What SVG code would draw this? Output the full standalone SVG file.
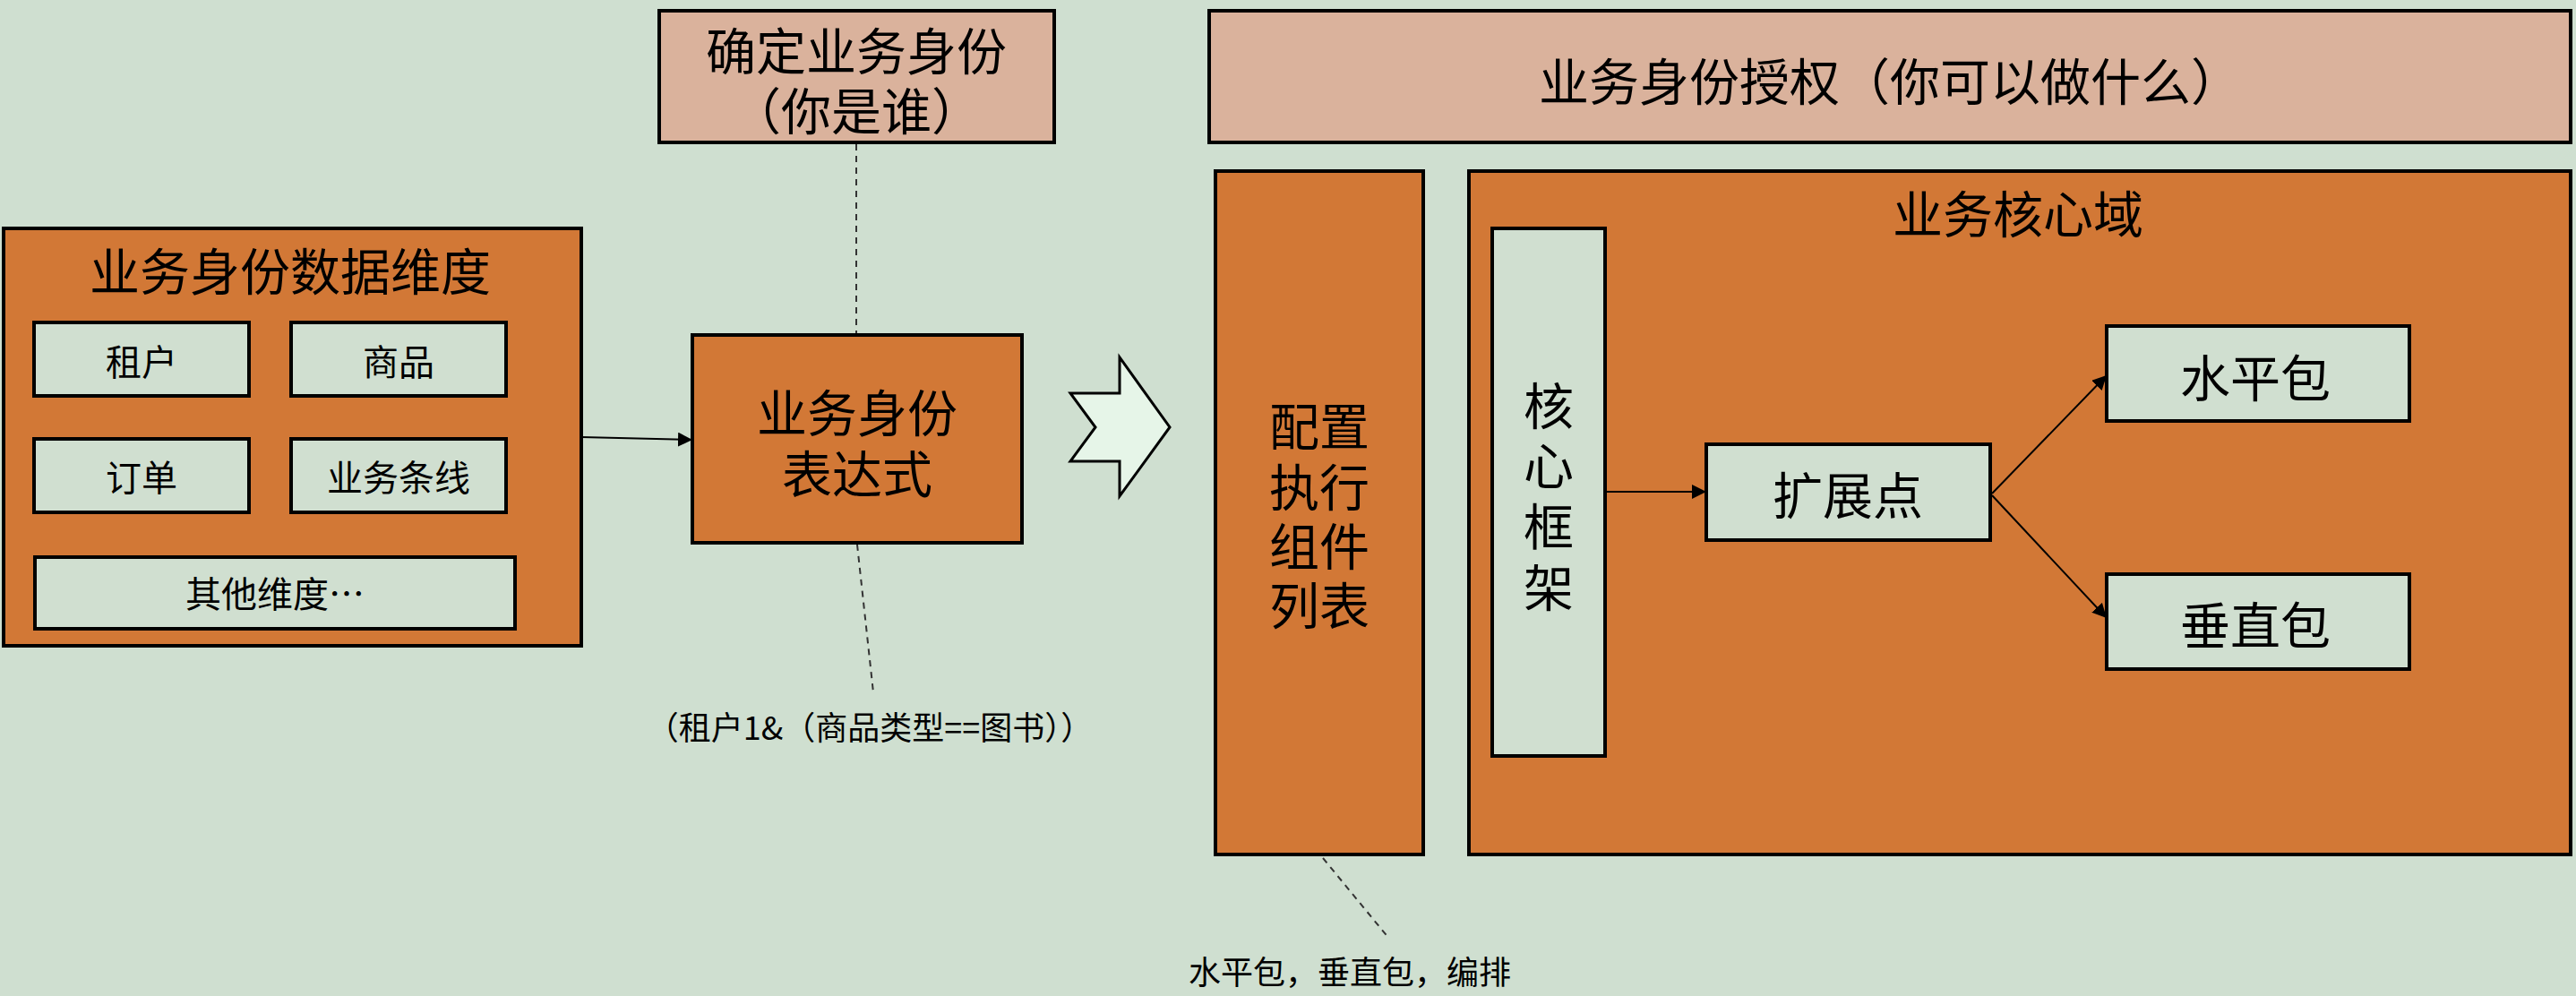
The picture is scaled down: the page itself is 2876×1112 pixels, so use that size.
<svg xmlns="http://www.w3.org/2000/svg" width="2876" height="1112" viewBox="0 0 2876 1112">
  <style>
    .bg { fill: #cfdfd0; }
    .orange { fill: #d27836; stroke: #000; stroke-width: 4; }
    .pink { fill: #dab29c; stroke: #000; stroke-width: 4; }
    .light { fill: #d0dfd0; stroke: #000; stroke-width: 4; }
    .chev { fill: #e6f5e8; stroke: #000; stroke-width: 3; stroke-linejoin: miter; }
    text { font-family: "Noto Sans CJK SC", "Noto Sans", sans-serif; fill: #000; dominant-baseline: central; }
    .t56 { font-size: 56px; text-anchor: middle; }
    .t40 { font-size: 40px; text-anchor: middle; }
    .t36 { font-size: 36px; }
    .edge { stroke: #000; stroke-width: 2; fill: none; }
    .note { stroke: #333; stroke-width: 2; stroke-dasharray: 7 6; fill: none; }
  </style>
  <defs>
    <marker id="arrow" viewBox="0 0 10 10" refX="10" refY="5" markerWidth="16" markerHeight="16" markerUnits="userSpaceOnUse" orient="auto">
      <path d="M0,0 L10,5 L0,10 z" fill="#000"/>
    </marker>
  </defs>

  <rect class="bg" x="0" y="0" width="2876" height="1112"/>

  <!-- identity data dimensions -->
  <g id="dims">
    <rect class="orange" x="4" y="255" width="645" height="466"/>
    <text class="t56" x="324" y="299">业务身份数据维度</text>
    <g id="dim-tenant">
      <rect class="light" x="38" y="360" width="240" height="82"/>
      <text class="t40" x="158" y="402">租户</text>
    </g>
    <g id="dim-goods">
      <rect class="light" x="325" y="360" width="240" height="82"/>
      <text class="t40" x="445" y="402">商品</text>
    </g>
    <g id="dim-order">
      <rect class="light" x="38" y="490" width="240" height="82"/>
      <text class="t40" x="158" y="531">订单</text>
    </g>
    <g id="dim-line">
      <rect class="light" x="325" y="490" width="240" height="82"/>
      <text class="t40" x="445" y="531">业务条线</text>
    </g>
    <g id="dim-other">
      <rect class="light" x="39" y="622" width="536" height="80"/>
      <text class="t40" x="307" y="661">其他维度…</text>
    </g>
  </g>

  <!-- who are you -->
  <g id="identify">
    <rect class="pink" x="736" y="12" width="441" height="147"/>
    <text class="t56"><tspan x="956" y="53">确定业务身份</tspan><tspan x="956" y="120">（你是谁）</tspan></text>
  </g>

  <!-- identity expression -->
  <g id="expression">
    <rect class="orange" x="773" y="374" width="368" height="232"/>
    <text class="t56"><tspan x="957" y="457">业务身份</tspan><tspan x="957" y="525">表达式</tspan></text>
  </g>

  <!-- expression example -->
  <g id="expr-note">
    <text class="t36" x="971" y="810" text-anchor="middle">（租户1&amp;（商品类型==图书））</text>
  </g>

  <!-- big chevron arrow -->
  <g id="chevron">
    <polygon class="chev" points="1195,439 1250,439 1250,399 1306,477 1250,554 1250,515 1195,515 1223,477"/>
  </g>

  <!-- authorization banner -->
  <g id="authorize">
    <rect class="pink" x="1350" y="12" width="1520" height="147"/>
    <text class="t56" x="2110" y="87">业务身份授权（你可以做什么）</text>
  </g>

  <!-- config component list -->
  <g id="config">
    <rect class="orange" x="1357" y="191" width="232" height="763"/>
    <text class="t56"><tspan x="1473" y="472">配置</tspan><tspan x="1473" y="540">执行</tspan><tspan x="1473" y="606">组件</tspan><tspan x="1473" y="672">列表</tspan></text>
  </g>

  <!-- config note -->
  <g id="config-note">
    <text class="t36" x="1327" y="1083">水平包，垂直包，编排</text>
  </g>

  <!-- core domain -->
  <g id="core-domain">
    <rect class="orange" x="1640" y="191" width="1230" height="763"/>
    <text class="t56" x="2253" y="235">业务核心域</text>
  </g>

  <g id="core-framework">
    <rect class="light" x="1666" y="255" width="126" height="589"/>
    <text class="t56"><tspan x="1729" y="449">核</tspan><tspan x="1729" y="516">心</tspan><tspan x="1729" y="584">框</tspan><tspan x="1729" y="652">架</tspan></text>
  </g>

  <g id="ext-point">
    <rect class="light" x="1905" y="496" width="317" height="107"/>
    <text class="t56" x="2063" y="549">扩展点</text>
  </g>

  <g id="horizontal">
    <rect class="light" x="2352" y="364" width="338" height="106"/>
    <text class="t56" x="2518" y="418">水平包</text>
  </g>

  <g id="vertical">
    <rect class="light" x="2352" y="641" width="338" height="106"/>
    <text class="t56" x="2518" y="694">垂直包</text>
  </g>

  <!-- connectors -->
  <g id="connectors">
    <line class="edge" x1="649" y1="488" x2="773" y2="491" marker-end="url(#arrow)"/>
    <line class="edge" x1="1792" y1="549" x2="1905" y2="549" marker-end="url(#arrow)"/>
    <line class="edge" x1="2224" y1="551" x2="2352" y2="419" marker-end="url(#arrow)"/>
    <line class="edge" x1="2224" y1="553" x2="2352" y2="690" marker-end="url(#arrow)"/>
    <line class="note" x1="956" y1="161" x2="956" y2="372"/>
    <line class="note" x1="957" y1="608" x2="975" y2="773"/>
    <line class="note" x1="1477" y1="958" x2="1551" y2="1048"/>
  </g>
</svg>
